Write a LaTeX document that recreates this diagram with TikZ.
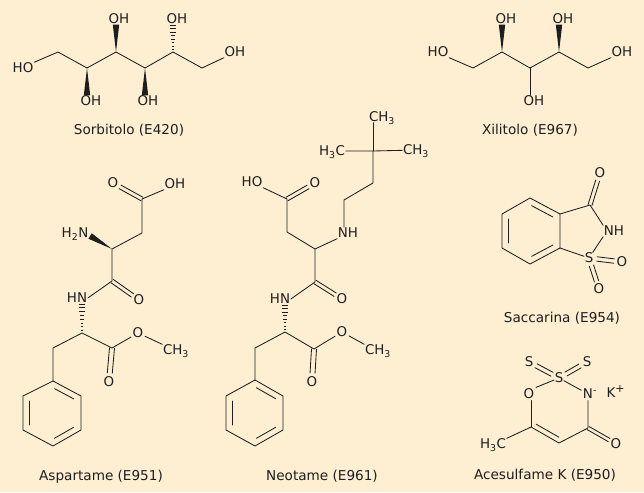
\documentclass[tikz,border=0pt]{standalone}
\usepackage{fontspec}
\setmainfont{DejaVu Sans}
\usetikzlibrary{calc}
\definecolor{bg}{HTML}{FEEFD3}
\definecolor{ink}{HTML}{1E1E1E}
\tikzset{
  bond/.style={draw=ink,line width=0.85pt,line join=round,line cap=round},
  lbl/.style={text=ink,inner sep=0.6pt,text height=9.8pt,text depth=0pt,font=\fontsize{13.4}{15}\selectfont},
  atom/.style={lbl,inner sep=1.5pt},
  captext/.style={lbl,font=\fontsize{13.6}{15}\selectfont}
}
% parallel line of a double bond: from, to, offset, shorten at from, shorten at to
\newcommand\dbond[5]{\draw[bond,shorten <=#4,shorten >=#5] ($(#1)!#3!90:(#2)$) -- ($(#2)!#3!-90:(#1)$);}
\newcommand\wedgeb[2]{\fill[ink] (#1) -- ($(#2)!3.2pt!90:(#1)$) -- ($(#2)!3.2pt!-90:(#1)$) -- cycle;}
\newcommand\hashb[2]{%
  \foreach \f in {0.08,0.21,...,1.0}{%
    \pgfmathsetmacro\w{0.4+\f*3.0}%
    \coordinate (hp) at ($(#1)!\f!(#2)$);
    \draw[ink,line width=0.8pt] ($(hp)!\w pt!90:(#2)$) -- ($(hp)!\w pt!-90:(#2)$);
  }}
\begin{document}
\begin{tikzpicture}[x=1pt,y=-1pt]
\fill[bg] (0,0) rectangle (644,492);
\useasboundingbox (0,0) rectangle (644,492);
% ---------- Sorbitolo
\node[lbl] (sho) at (23,68) {HO};
\node[lbl] (soh1) at (91,101) {OH};
\node[lbl] (soh2) at (119,19) {OH};
\node[lbl] (soh3) at (148,101) {OH};
\node[lbl] (soh4) at (177,19) {OH};
\node[lbl] (soh5) at (235,52) {OH};
\coordinate (s1) at (58,52);
\coordinate (s2) at (87,68);
\coordinate (s3) at (116,52);
\coordinate (s4) at (145,68);
\coordinate (s5) at (173,52);
\coordinate (s6) at (202,68);
\draw[bond] (sho.north east) -- (s1) -- (s2) -- (s3) -- (s4) -- (s5) -- (s6) -- (soh5.south west);
\path (s2 |- soh1.north) coordinate (s2e);
\path (s3 |- soh2.south) coordinate (s3e);
\path (s4 |- soh3.north) coordinate (s4e);
\path (s5 |- soh4.south) coordinate (s5e);
\wedgeb{s2}{s2e}
\wedgeb{s3}{s3e}
\wedgeb{s4}{s4e}
\hashb{s5}{s5e}
\node[captext] (scap) at (129,130) {Sorbitolo (E420)};
% ---------- Xilitolo
\node[lbl] (xho) at (438,52) {HO};
\node[lbl] (xoh1) at (506,19) {OH};
\node[lbl] (xoh2) at (534,101) {OH};
\node[lbl] (xoh3) at (563,19) {OH};
\node[lbl] (xoh4) at (622,52) {OH};
\coordinate (x1) at (473,68);
\coordinate (x2) at (502,52);
\coordinate (x3) at (530,68);
\coordinate (x4) at (559,52);
\coordinate (x5) at (588,68);
\draw[bond] (xho.south east) -- (x1) -- (x2) -- (x3) -- (x4) -- (x5) -- (xoh4.south west);
\draw[bond] (x3) -- (x3 |- xoh2.north);
\path (x2 |- xoh1.south) coordinate (x2e);
\path (x4 |- xoh3.south) coordinate (x4e);
\wedgeb{x2}{x2e}
\wedgeb{x4}{x4e}
\node[captext] (xcap) at (530,130) {Xilitolo (E967)};
% ---------- Aspartame
\node[atom] (ao1) at (113,183) {O};
\node[lbl] (aoh) at (175,184) {OH};
\node[lbl] (anh2) at (75,233) {H\textsubscript{2}N};
\node[lbl] (ahn) at (77,298) {HN};
\node[atom] (ao2) at (139,300) {O};
\node[atom] (ao3) at (138,333) {O};
\node[lbl] (ach3) at (176,350) {CH\textsubscript{3}};
\node[atom] (ao4) at (109,382) {O};
\coordinate (a1) at (142,199);
\coordinate (a2) at (142,233);
\coordinate (a3) at (112,249);
\coordinate (a4) at (112,281);
\coordinate (a5) at (82,333);
\coordinate (a6) at (112,348);
\coordinate (a7) at (53,348);
\coordinate (ar1) at (53,381);
\coordinate (ar2) at (81,396);
\coordinate (ar3) at (81,430);
\coordinate (ar4) at (53,446);
\coordinate (ar5) at (23,430);
\coordinate (ar6) at (23,396);
\draw[bond] (aoh.south west) -- (a1) -- (a2) -- (a3) -- (a4) -- (ahn.east);
\dbond{a1}{ao1}{2pt}{0pt}{8pt}
\dbond{a1}{ao1}{-2pt}{0pt}{8pt}
\dbond{a4}{ao2}{2pt}{0pt}{8pt}
\dbond{a4}{ao2}{-2pt}{0pt}{8pt}
\path ($(anh2.east)+(1,3)$) coordinate (a3e);
\wedgeb{a3}{a3e}
\path (a5 |- ahn.south) coordinate (a5e);
\hashb{a5}{a5e}
\draw[bond] (ar1) -- (a7) -- (a5) -- (a6) -- (ao3);
\draw[bond] (ao3) -- (ach3.north west);
\dbond{a6}{ao4}{2.5pt}{0pt}{9pt}
\dbond{a6}{ao4}{-2.5pt}{0pt}{9pt}
\draw[bond] (ar1) -- (ar2) -- (ar3) -- (ar4) -- (ar5) -- (ar6) -- cycle;
\dbond{ar1}{ar2}{-6pt}{5pt}{5pt}
\dbond{ar3}{ar4}{-6pt}{5pt}{5pt}
\dbond{ar5}{ar6}{-6pt}{5pt}{5pt}
\node[captext] (acap) at (101,476) {Aspartame (E951)};
% ---------- Neotame
\node[lbl] (nc1) at (382,117) {CH\textsubscript{3}};
\node[lbl] (nc2) at (332,151) {H\textsubscript{3}C};
\node[lbl] (nc3) at (416,150) {CH\textsubscript{3}};
\node[lbl] (nnh) at (348,233) {NH};
\node[atom] (no1) at (315,183) {O};
\node[lbl] (nho) at (252,182) {HO};
\node[atom] (no2) at (342,299) {O};
\node[lbl] (nhn) at (280,299) {HN};
\node[atom] (no3) at (342,332) {O};
\node[lbl] (nch3) at (378,350) {CH\textsubscript{3}};
\node[atom] (no4) at (312,382) {O};
\coordinate (nq) at (373,151);
\coordinate (n1) at (373,183);
\coordinate (n2) at (344,200);
\coordinate (n3) at (315,249);
\coordinate (n4) at (287,232);
\coordinate (n5) at (287,199);
\coordinate (n6) at (315,282);
\coordinate (n7) at (285,332);
\coordinate (n8) at (314,349);
\coordinate (n9) at (255,348);
\coordinate (nr1) at (255,380);
\coordinate (nr2) at (283,396);
\coordinate (nr3) at (283,430);
\coordinate (nr4) at (255,446);
\coordinate (nr5) at (226,430);
\coordinate (nr6) at (226,396);
\draw[bond] (nq |- nc1.south) -- (nq);
\draw[bond] (nc2) -- (nq) -- (nc3);
\draw[bond] (nq) -- (n1) -- (n2) -- (n2 |- nnh.north);
\draw[bond] (nnh.south west) -- (n3) -- (n4) -- (n5) -- (nho.south east);
\draw[bond] (n3) -- (n6) -- (nhn.east);
\dbond{n5}{no1}{2pt}{0pt}{8pt}
\dbond{n5}{no1}{-2pt}{0pt}{8pt}
\dbond{n6}{no2}{2pt}{0pt}{8pt}
\dbond{n6}{no2}{-2pt}{0pt}{8pt}
\path (n7 |- nhn.south) coordinate (n7e);
\hashb{n7}{n7e}
\draw[bond] (nr1) -- (n9) -- (n7) -- (n8) -- (no3);
\draw[bond] (no3) -- (nch3.north west);
\dbond{n8}{no4}{2.5pt}{0pt}{9pt}
\dbond{n8}{no4}{-2.5pt}{0pt}{9pt}
\draw[bond] (nr1) -- (nr2) -- (nr3) -- (nr4) -- (nr5) -- (nr6) -- cycle;
\dbond{nr1}{nr2}{-6pt}{5pt}{5pt}
\dbond{nr3}{nr4}{-6pt}{5pt}{5pt}
\dbond{nr5}{nr6}{-6pt}{5pt}{5pt}
\node[captext] (ncap) at (322,476) {Neotame (E961)};
% ---------- Saccarina
\node[atom] (so1) at (600,173) {O};
\node[lbl] (snh) at (614,231) {NH};
\node[atom,inner sep=0.5pt] (ss) at (589,258) {S};
\node[atom] (so2) at (622,262) {O};
\node[atom] (so3) at (599,289) {O};
\coordinate (b1) at (530,198);
\coordinate (b2) at (560,214);
\coordinate (b3) at (560,248);
\coordinate (b4) at (530,264);
\coordinate (b5) at (502,248);
\coordinate (b6) at (502,214);
\coordinate (b7) at (590,205);
\draw[bond] (b1) -- (b2) -- (b3) -- (b4) -- (b5) -- (b6) -- cycle;
\dbond{b1}{b2}{-6pt}{5pt}{5pt}
\dbond{b3}{b4}{-6pt}{5pt}{5pt}
\dbond{b5}{b6}{-6pt}{5pt}{5pt}
\draw[bond] (b2) -- (b7) -- (snh.north west);
\draw[bond] (b3) -- (ss);
\draw[bond] (snh.south west) -- (ss);
\dbond{b7}{so1}{2pt}{0pt}{8pt}
\dbond{b7}{so1}{-2pt}{0pt}{8pt}
\dbond{ss}{so2}{2.2pt}{8pt}{8pt}
\dbond{ss}{so2}{-2.2pt}{8pt}{8pt}
\dbond{ss}{so3}{2.2pt}{8pt}{8pt}
\dbond{ss}{so3}{-2.2pt}{8pt}{8pt}
\node[captext] (sacap) at (562,318) {Saccarina (E954)};
% ---------- Acesulfame K
\node[atom] (cs1) at (529,362) {S};
\node[atom] (cs2) at (587,362) {S};
\node[atom,inner sep=0.5pt] (cs) at (559,378) {S};
\node[atom] (co1) at (529,394) {O};
\node[atom] (cn) at (588,394) {N\rlap{\textsuperscript{-}}};
\node[lbl] (ck) at (615.5,393) {K\raisebox{5pt}{\fontsize{11}{12}\selectfont +}};
\node[atom] (co2) at (616,444) {O};
\node[lbl] (cch3) at (493,444) {H\textsubscript{3}C};
\coordinate (c6) at (531,427);
\coordinate (c5) at (559,443);
\coordinate (c4) at (588,428);
\draw[bond] (co1.north east) -- (cs);
\draw[bond] (cs) -- (cn);
\draw[bond] (cch3.north east) -- (c6) -- (c5) -- (c4) -- (c4 |- cn.south);
\draw[bond] (c6) -- (c6 |- co1.south);
\dbond{c6}{c5}{5pt}{3pt}{3pt}
\dbond{c4}{co2}{1.8pt}{0pt}{8pt}
\dbond{c4}{co2}{-1.8pt}{0pt}{8pt}
\dbond{cs}{cs1}{2.2pt}{8pt}{8pt}
\dbond{cs}{cs1}{-2.2pt}{8pt}{8pt}
\dbond{cs}{cs2}{2.2pt}{8pt}{8pt}
\dbond{cs}{cs2}{-2.2pt}{8pt}{8pt}
\node[captext] (ccap) at (545,475) {Acesulfame K (E950)};
\end{tikzpicture}
\end{document}
